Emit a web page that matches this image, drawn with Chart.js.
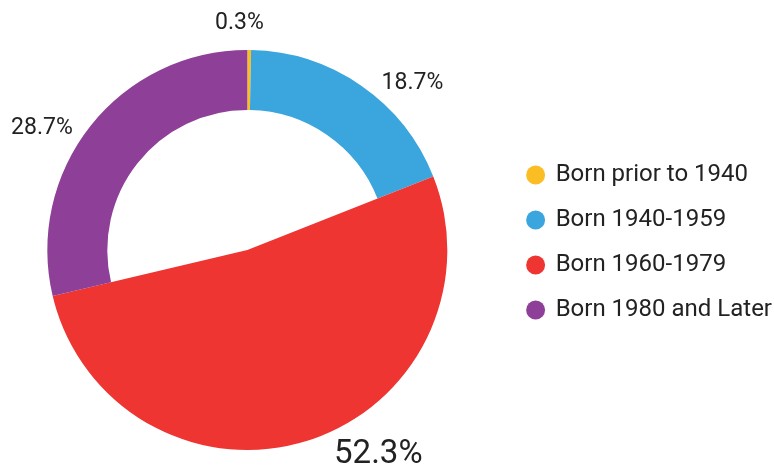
<!DOCTYPE html>
<html>
<head>
<meta charset="utf-8">
<script src="https://cdn.jsdelivr.net/npm/chart.js@4.4.1/dist/chart.umd.min.js"></script>
<style>
  html, body { margin: 0; padding: 0; background: #fff; overflow: hidden; }
  /* canvas a bit wider than the window, pulled left, so the pie sits where the original does */
  #genChart { display: block; margin-left: -12px; }
</style>
</head>
<body>
<canvas id="genChart" width="786" height="466"></canvas>
<script>
const categories = ['Born prior to 1940', 'Born 1940-1959', 'Born 1960-1979', 'Born 1980 and Later'];
const shares = [0.3, 18.7, 52.3, 28.7];
const colors = ['#fbbd24', '#3ba5dd', '#ee3531', '#8e3f97'];

const biggest = shares.indexOf(Math.max(...shares));

// the biggest slice is drawn as a full wedge, down to the centre
const solidSlice = {
  id: 'solidSlice',
  beforeDatasetsDraw(chart) {
    const arc = chart.getDatasetMeta(0).data[biggest];
    if (arc) arc.innerRadius = 0;
  }
};

// percent labels outside the ring
const pctLabels = {
  id: 'pctLabels',
  afterDatasetsDraw(chart, args, opts) {
    const ctx = chart.ctx;
    const total = shares.reduce((a, b) => a + b, 0);
    ctx.save();
    ctx.fillStyle = opts.color;
    ctx.textAlign = 'center';
    ctx.textBaseline = 'middle';
    chart.getDatasetMeta(0).data.forEach((arc, i) => {
      const p = arc.getProps(['x', 'y', 'startAngle', 'endAngle', 'outerRadius'], true);
      const mid = (p.startAngle + p.endAngle) / 2;
      const r = p.outerRadius + opts.gap;
      const nudge = opts.nudge[i] || [0, 0];
      ctx.font = (i === biggest ? opts.bigSize : opts.size) + 'px Roboto';
      const txt = (shares[i] / total * 100).toFixed(1) + '%';
      ctx.fillText(txt, p.x + Math.cos(mid) * r + nudge[0], p.y + Math.sin(mid) * r + nudge[1]);
    });
    ctx.restore();
  }
};

const config = {
  type: 'doughnut',
  data: {
    labels: categories,
    datasets: [{
      data: shares,
      backgroundColor: colors,
      borderWidth: 0,
      hoverBorderWidth: 0,
      hoverOffset: 0
    }]
  },
  options: {
    responsive: false,
    animation: false,
    cutout: '70%',
    events: [],
    layout: {
      padding: { top: 35, bottom: 16, left: 0, right: -8 }
    },
    plugins: {
      // empty title only used as a spacer above the chart area
      title: {
        display: true,
        text: '',
        padding: 0,
        font: { size: 15, lineHeight: 1 }
      },
      legend: {
        position: 'right',
        labels: {
          usePointStyle: true,
          pointStyle: 'circle',
          boxWidth: 16,
          boxHeight: 13.4,
          padding: 21,
          color: '#222',
          font: { family: 'Roboto', size: 24 }
        }
      },
      tooltip: { enabled: false },
      pctLabels: {
        color: '#222',
        size: 23,
        bigSize: 33,
        gap: 30,
        nudge: [[-10, 3], [34, 22], [62, -15], [-25, 21]]
      }
    }
  },
  plugins: [solidSlice, pctLabels]
};

new Chart(document.getElementById('genChart'), config);
</script>
</body>
</html>
